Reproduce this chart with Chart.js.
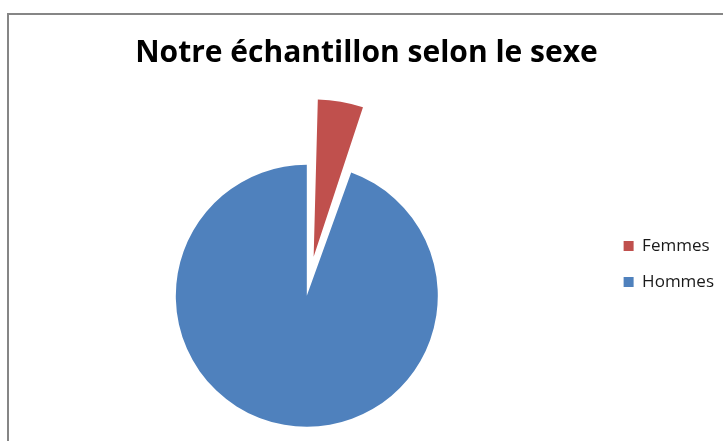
<!DOCTYPE html>
<html>
<head>
<meta charset="utf-8">
<script src="https://cdn.jsdelivr.net/npm/chart.js@4.4.1/dist/chart.umd.min.js"></script>
<style>
  html, body { margin: 0; padding: 0; background: #fff; overflow: hidden; }
  #frame {
    position: absolute;
    left: 7px;
    top: 13px;
    width: 740px;
    height: 440px;
    border-left: 2px solid #868686;
    border-top: 2px solid #868686;
  }
  #box { position: absolute; left: 0; top: 0; width: 724px; height: 426px; }
</style>
</head>
<body>
<div id="frame">
  <div id="box"><canvas id="output"></canvas></div>
</div>
<script>
// chart data
const labels = ["Femmes", "Hommes"];
const values = [5.5, 94.5];
const colors = ["#C0504D", "#4F81BD"];
const titleText = "Notre échantillon selon le sexe";

const ctx = document.getElementById("output").getContext("2d");

new Chart(ctx, {
  type: "pie",
  data: {
    labels: labels,
    datasets: [
      {
        data: values,
        backgroundColor: colors,
        borderWidth: 0,
        // Femmes slice pulled out (chart.js scales this value down for small arcs)
        offset: [159, 0],
        radius: 131,
        clip: false,
      },
    ],
  },
  options: {
    responsive: true,
    maintainAspectRatio: false,
    animation: false,
    layout: {
      padding: { left: 0, right: 9, top: 0, bottom: 8 },
    },
    plugins: {
      title: {
        display: true,
        text: titleText,
        color: "#000",
        font: { family: "Open Sans", size: 30, weight: "bold" },
        padding: { top: 20, bottom: 87.6 },
      },
      legend: {
        position: "right",
        align: "start",
        // empty title only pushes the items down
        title: {
          display: true,
          text: "",
          font: { size: 12 },
          padding: { top: 0, bottom: 189.1 },
        },
        labels: {
          boxWidth: 10,
          boxHeight: 10,
          padding: 19,
          color: "#1a1a1a",
          font: { family: "Open Sans", size: 17 },
        },
      },
      tooltip: { enabled: false },
    },
  },
});
</script>
</body>
</html>
